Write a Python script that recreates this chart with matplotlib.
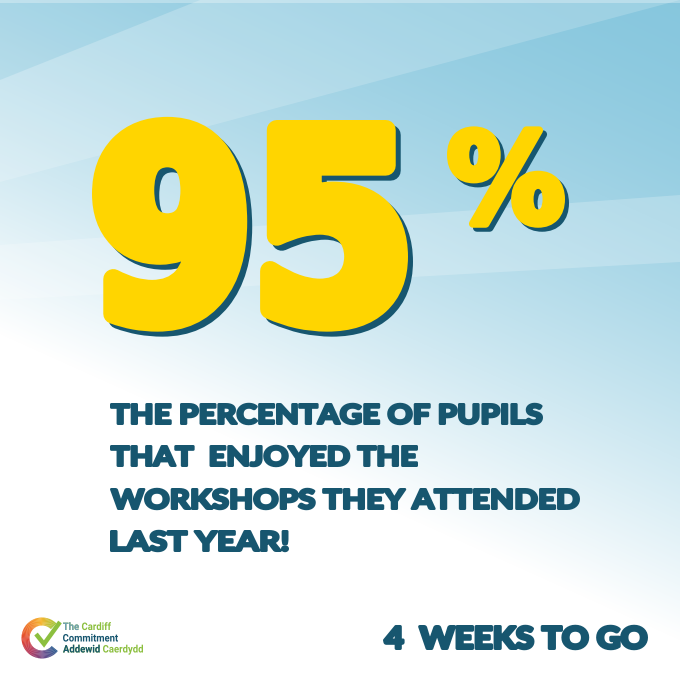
import numpy as np
import matplotlib
matplotlib.use("Agg")
import matplotlib.pyplot as plt
from matplotlib.textpath import TextPath
from matplotlib.font_manager import FontProperties
from matplotlib.patches import PathPatch, Polygon
from matplotlib.transforms import Affine2D
from matplotlib.colors import LinearSegmentedColormap

# content
headline_value = 95
headline_suffix = "%"
caption_lines = ["THE PERCENTAGE OF PUPILS",
                 "THAT  ENJOYED THE",
                 "WORKSHOPS THEY ATTENDED",
                 "LAST YEAR!"]
countdown_weeks = 4
countdown_label = "WEEKS TO GO"
logo_lines = [("The", "Cardiff"), ("Commitment", ""), ("Addewid", "Caerdydd")]

YELLOW = "#FFD500"
TEAL = "#17566f"
GREEN = "#8cbf3f"
GREYBLUE = "#6f9fb8"

heavy = FontProperties(family="Lato", weight="black")
digits = FontProperties(family="DejaVu Sans", weight="bold")
logo_font = FontProperties(family="Roboto", weight="bold")


def fit_text(ax, s, x0, x1, base, cap, color, prop, grow=0.0, shadow=None, z=5):
    # glyphs of s stretched to span x0..x1, cap height = cap, sitting on base
    # grow = extra stroke (px) to make the face heavier
    path = TextPath((0, 0), s, size=100, prop=prop)
    ext = path.get_extents()
    hcap = TextPath((0, 0), "H", size=100, prop=prop).get_extents().height
    sx = (x1 - x0 - grow) / ext.width
    sy = (cap - grow) / hcap
    tr = (Affine2D().translate(-ext.x0, 0).scale(sx, -sy)
          .translate(x0 + grow / 2, base - grow / 2))
    p = tr.transform_path(path)
    if shadow is not None:
        dx, dy = shadow
        ax.add_patch(PathPatch(p, fc=TEAL, ec=TEAL, lw=grow * 0.72, joinstyle="round",
                               transform=Affine2D().translate(dx, dy) + ax.transData, zorder=z))
    ax.add_patch(PathPatch(p, fc=color, ec=color if grow else "none", lw=grow * 0.72,
                           joinstyle="round", transform=ax.transData, zorder=z + 1))
    return tr


fig = plt.figure(figsize=(6.8, 6.8), dpi=100)
ax = fig.add_axes([0, 0, 1, 1])
ax.set_xlim(0, 680)
ax.set_ylim(680, 0)
ax.axis("off")

# background gradient, blue top right fading to white bottom left
yy, xx = np.mgrid[0:680, 0:680]
s = yy - 0.45 * xx
t = np.clip((s + 306) / 640.0, 0, 1) ** 1.5
blue = np.array([0.53, 0.78, 0.87])
img = blue[None, None, :] * (1 - t[..., None]) + np.ones(3)[None, None, :] * t[..., None]
ax.imshow(img, extent=(0, 680, 680, 0), zorder=0, interpolation="bilinear")

# light beams
ax.add_patch(Polygon([(0, 80), (200, 0), (680, 0), (0, 182)], fc="white", alpha=0.18, ec="none", zorder=1))
ax.add_patch(Polygon([(0, 0), (200, 0), (0, 80)], fc="#5fb3d0", alpha=0.08, ec="none", zorder=1))
ax.add_patch(Polygon([(0, 245), (680, 195), (680, 262), (0, 300)], fc="white", alpha=0.22, ec="none", zorder=1))
ax.add_patch(Polygon([(0, 0), (680, 0), (680, 3), (0, 3)], fc="white", alpha=0.3, ec="none", zorder=1))

# big number
fit_text(ax, str(headline_value), 92, 408, 328, 208, YELLOW, digits, grow=20, shadow=(5, 5))
fit_text(ax, headline_suffix, 447, 565, 226, 98, YELLOW, digits, grow=8, shadow=(4, 4))

# caption
cap_right = [543, 418, 580, 289]
cap_base = [425, 467, 510, 552]
for line, xr, yb in zip(caption_lines, cap_right, cap_base):
    fit_text(ax, line, 110, xr, yb, 22, TEAL, heavy, grow=2.6)

# countdown
fit_text(ax, f"{countdown_weeks}  {countdown_label}", 383, 648, 650, 25, TEAL, heavy, grow=3.2)

# logo ring
cmap = LinearSegmentedColormap.from_list(
    "ring", ["#a6c63c", "#f6b52e", "#f07a2a", "#e2452f", "#b53a5e", "#6a4a8a", "#2f5f92"])
cx, cy, r_out, r_in = 42, 638, 20.5, 12.5
angles = np.linspace(45, 320, 80)
for a0, a1 in zip(angles[:-1], angles[1:]):
    th = np.radians(np.linspace(a0, a1 + 0.6, 4))
    pts = [(cx + r_out * np.cos(a), cy - r_out * np.sin(a)) for a in th]
    pts += [(cx + r_in * np.cos(a), cy - r_in * np.sin(a)) for a in th[::-1]]
    ax.add_patch(Polygon(pts, fc=cmap((a0 - 45) / 275), ec="none", zorder=3))
ax.plot([36, 44, 60], [634, 644, 622], color=GREEN, lw=3.2, solid_capstyle="butt",
        solid_joinstyle="miter", zorder=4)

# logo text
logo_rows = [(63, 111, 630), (63, 118, 641.5), (63, 143, 652.5)]
for (first, second), (x0, x1, base) in zip(logo_lines, logo_rows):
    if second:
        tr = fit_text(ax, first + " " + second, x0, x1, base, 7.4, GREEN, logo_font)
        head = TextPath((0, 0), first, size=100, prop=logo_font)
        c = GREYBLUE if first == "The" else TEAL
        ax.add_patch(PathPatch(tr.transform_path(head), fc=c, ec="none", zorder=7))
    else:
        fit_text(ax, first, x0, x1, base, 7.4, TEAL, logo_font)

fig.savefig("out.png", dpi=100)
